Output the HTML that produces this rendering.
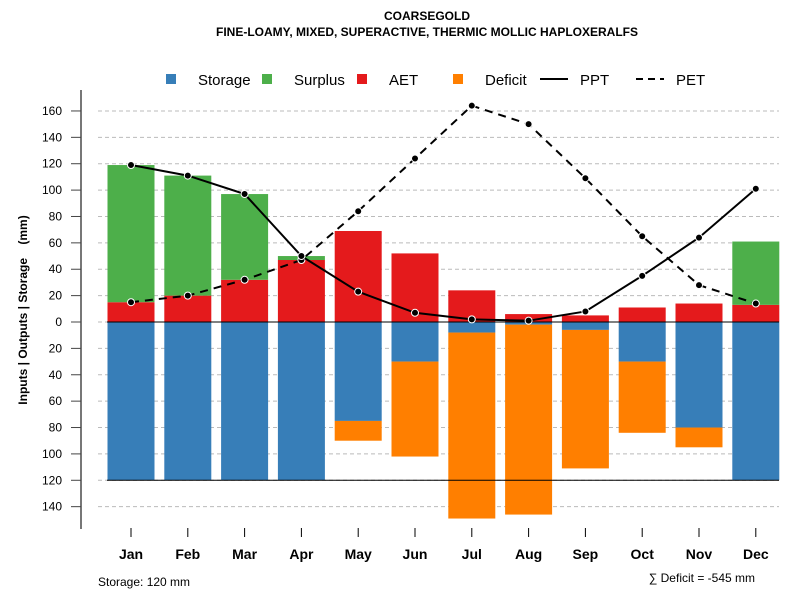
<!DOCTYPE html>
<html><head><meta charset="utf-8"><style>
body{margin:0;background:#fff}
svg{font-family:"Liberation Sans",sans-serif;display:block}
</style></head><body>
<svg id="c" width="800" height="600" xmlns="http://www.w3.org/2000/svg">
<text x="427" y="20" text-anchor="middle" font-size="12" font-weight="bold">COARSEGOLD</text>
<text x="427" y="36" text-anchor="middle" font-size="12" font-weight="bold">FINE-LOAMY, MIXED, SUPERACTIVE, THERMIC MOLLIC HAPLOXERALFS</text>
<g font-size="15">
<rect x="166" y="74" width="10" height="10" fill="#377eb8"/>
<text x="198" y="85">Storage</text>
<rect x="262" y="74" width="10" height="10" fill="#4daf4a"/>
<text x="294" y="85">Surplus</text>
<rect x="357" y="74" width="10" height="10" fill="#e41a1c"/>
<text x="389" y="85">AET</text>
<rect x="453" y="74" width="10" height="10" fill="#ff7f00"/>
<text x="485" y="85">Deficit</text>
<line x1="540" y1="79" x2="568" y2="79" stroke="#000" stroke-width="2"/>
<text x="580" y="85">PPT</text>
<line x1="636" y1="79" x2="664" y2="79" stroke="#000" stroke-width="2" stroke-dasharray="7,5"/>
<text x="676" y="85">PET</text>
</g>
<text transform="translate(27,310) rotate(-90)" text-anchor="middle" font-size="12" font-weight="bold">Inputs | Outputs | Storage&#160;&#160;&#160;&#160;(mm)</text>
<text x="98" y="586" font-size="12">Storage: 120 mm</text>
<text x="755" y="582" text-anchor="end" font-size="12">∑ Deficit = -545 mm</text>
<g id="g"></g>
</svg>
<script>
const months=["Jan","Feb","Mar","Apr","May","Jun","Jul","Aug","Sep","Oct","Nov","Dec"];
const aet=[15,20,32,47,69,52,24,6,5,11,14,13];
const surplus=[104,91,65,3,0,0,0,0,0,0,0,48];
const storage=[120,120,120,120,75,30,8,2,6,30,80,120];
const deficit=[0,0,0,0,15,72,141,144,105,54,15,0];
const ppt=[119,111,97,50,23,7,2,1,8,35,64,101];
const pet=[15,20,32,47,84,124,164,150,109,65,28,14];
const yTicks=[160,140,120,100,80,60,40,20,0,-20,-40,-60,-80,-100,-120,-140];
const NS="http://www.w3.org/2000/svg",g=document.getElementById('g');
const y=v=>322-v*1.319;
const x=i=>131+i*56.8;
const bw=47;
function el(t,a){const e=document.createElementNS(NS,t);for(const k in a)e.setAttribute(k,a[k]);g.appendChild(e);return e;}
let e=el('line',{x1:81,y1:90,x2:81,y2:529,stroke:'#777','stroke-width':2});

yTicks.forEach(t=>{
 let l=el('line',{x1:98,y1:y(t),x2:779,y2:y(t),stroke:'#bbb','stroke-dasharray':'4,3'});
 
 let k=el('line',{x1:71,y1:y(t),x2:81,y2:y(t),stroke:'#444'});
 
 let tx=el('text',{x:62,y:y(t)+4,'text-anchor':'end','font-size':12});tx.textContent=Math.abs(t);
 
});
function bar(i,a,b,c,n){let r=el('rect',{x:x(i)-bw/2,y:y(Math.max(a,b)),width:bw,height:Math.abs(y(a)-y(b)),fill:c});
 }
months.forEach((m,i)=>{
 bar(i,0,aet[i],'#e41a1c','aet');
 if(surplus[i]>0)bar(i,aet[i],aet[i]+surplus[i],'#4daf4a','surplus');
 bar(i,0,-storage[i],'#377eb8','storage');
 if(deficit[i]>0)bar(i,-storage[i],-storage[i]-deficit[i],'#ff7f00','deficit');
 let k=el('line',{x1:x(i),y1:528,x2:x(i),y2:537,stroke:'#000'});
 
 let t=el('text',{x:x(i),y:559,'text-anchor':'middle','font-size':14,'font-weight':'bold'});t.textContent=m;
 
});
e=el('line',{x1:107,y1:y(0),x2:779,y2:y(0),stroke:'#000'});
e=el('line',{x1:107,y1:y(-120),x2:779,y2:y(-120),stroke:'#000'});
function line(d,n,dash){let p=el('polyline',{points:d.map((v,i)=>x(i)+','+y(v)).join(' '),fill:'none',stroke:'#000','stroke-width':2,'stroke-dasharray':dash});
 
 d.forEach((v,i)=>{let c=el('circle',{cx:x(i),cy:y(v),r:3.5,fill:'#000',stroke:'#fff','stroke-width':1});
 });}
line(pet,'pet','8,6');
line(ppt,'ppt','none');
</script>
</body></html>
